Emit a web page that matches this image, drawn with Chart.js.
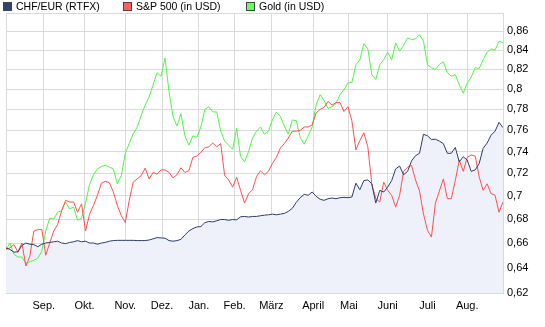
<!DOCTYPE html>
<html>
<head>
<meta charset="utf-8">
<script src="https://cdn.jsdelivr.net/npm/chart.js@4/dist/chart.umd.min.js"></script>
<style>
  body { margin: 0; background: #fff; }
  canvas { display: block; }
</style>
</head>
<body>
<canvas id="chart" width="545" height="327"></canvas>
<script>
// month labels and where each month starts (in trading-day index)
const months = ['Sep.', 'Okt.', 'Nov.', 'Dez.', 'Jan.', 'Feb.', 'März', 'April', 'Mai', 'Juni', 'Juli', 'Aug.'];
const monthStarts = [9.5, 19.75, 30, 39.25, 48.5, 57.5, 66.75, 77.25, 86.25, 96, 106, 116];
const yTicks = [0.62, 0.64, 0.66, 0.68, 0.7, 0.72, 0.74, 0.76, 0.78, 0.8, 0.82, 0.84, 0.86, 0.88];

const chfEur = [
  0.656, 0.6547, 0.6525, 0.6528, 0.658, 0.660, 0.659, 0.6587, 0.657, 0.659,
  0.660, 0.6605, 0.661, 0.6615, 0.660, 0.6595, 0.6605, 0.661, 0.662, 0.661,
  0.6615, 0.660, 0.660, 0.659, 0.660, 0.6605, 0.6615, 0.662, 0.6622, 0.6622,
  0.6622, 0.6622, 0.6622, 0.662, 0.662, 0.662, 0.6625, 0.6635, 0.6645, 0.6642,
  0.664, 0.662, 0.6615, 0.662, 0.663, 0.6667, 0.670, 0.672, 0.6734, 0.6737,
  0.677, 0.678, 0.6777, 0.6786, 0.6797, 0.6797, 0.679, 0.6797, 0.6794, 0.682,
  0.6823, 0.6818, 0.6823, 0.6823, 0.6829, 0.6834, 0.6837, 0.6843, 0.6837, 0.6843,
  0.6849, 0.6866, 0.6892, 0.6944, 0.6985, 0.7014, 0.7006, 0.7035, 0.6997, 0.6971,
  0.6962, 0.6976, 0.6982, 0.6976, 0.6985, 0.6988, 0.6985, 0.6991, 0.7113, 0.7055,
  0.7136, 0.7142, 0.7107, 0.6938, 0.7049, 0.7035, 0.7078, 0.7136, 0.7241, 0.7267,
  0.7188, 0.7219, 0.7314, 0.7362, 0.7384, 0.7562, 0.7547, 0.7512, 0.7515, 0.7497,
  0.7474, 0.7384, 0.7384, 0.7438, 0.7305, 0.7352, 0.7321, 0.7219, 0.7232, 0.7289,
  0.7429, 0.7479, 0.7553, 0.7591, 0.7675, 0.7624
];

const sp500 = [
  0.6547, 0.656, 0.6587, 0.6525, 0.660, 0.6413, 0.6493, 0.670, 0.6711, 0.6714,
  0.650, 0.660, 0.670, 0.6757, 0.6873, 0.6962, 0.6947, 0.6947, 0.6859, 0.6932,
  0.670, 0.684, 0.6918, 0.7006, 0.7113, 0.713, 0.7116, 0.7035, 0.6918, 0.6829,
  0.6771, 0.6962, 0.7122, 0.7151, 0.718, 0.7248, 0.7151, 0.7209, 0.7194, 0.7232,
  0.7232, 0.7209, 0.716, 0.7188, 0.7251, 0.7209, 0.7225, 0.7346, 0.7359, 0.7391,
  0.7435, 0.7444, 0.7479, 0.7444, 0.7474, 0.7181, 0.7142, 0.7078, 0.7165, 0.7049,
  0.6938, 0.702, 0.7055, 0.7171, 0.7223, 0.7188, 0.7219, 0.7289, 0.7346, 0.7432,
  0.7474, 0.7526, 0.7591, 0.7591, 0.7597, 0.7631, 0.7631, 0.7651, 0.7766, 0.780,
  0.782, 0.7879, 0.7843, 0.7867, 0.7867, 0.778, 0.7827, 0.7689, 0.7415, 0.7503,
  0.7576, 0.7444, 0.7107, 0.6976, 0.6947, 0.7122, 0.7049, 0.7006, 0.6903, 0.7006,
  0.7219, 0.7257, 0.7273, 0.7142, 0.7043, 0.6844, 0.6706, 0.6649, 0.6938, 0.7043,
  0.7151, 0.6976, 0.6976, 0.7136, 0.7321, 0.7219, 0.7346, 0.7368, 0.7359, 0.7171,
  0.7049, 0.7107, 0.702, 0.7006, 0.6859, 0.6947
];

const gold = [
  0.6547, 0.660, 0.6507, 0.6485, 0.6485, 0.6432, 0.6448, 0.6459, 0.6475, 0.6533,
  0.670, 0.6809, 0.680, 0.6859, 0.6873, 0.6947, 0.6888, 0.6903, 0.6791, 0.6809,
  0.6938, 0.710, 0.7188, 0.7241, 0.7263, 0.7273, 0.7257, 0.7241, 0.7107, 0.718,
  0.7384, 0.7474, 0.7568, 0.763, 0.7742, 0.7843, 0.7924, 0.8045, 0.8166, 0.8131,
  0.8318, 0.7977, 0.7732, 0.764, 0.7759, 0.7547, 0.7459, 0.7547, 0.7532, 0.763,
  0.780, 0.7827, 0.7776, 0.7776, 0.7591, 0.7497, 0.7459, 0.742, 0.7617, 0.7352,
  0.7305, 0.740, 0.7526, 0.7591, 0.763, 0.7562, 0.7591, 0.7698, 0.7776, 0.7732,
  0.764, 0.7562, 0.7698, 0.7692, 0.7532, 0.7468, 0.7547, 0.763, 0.7843, 0.7945,
  0.7887, 0.781, 0.7827, 0.786, 0.7945, 0.7995, 0.8062, 0.8069, 0.8248, 0.830,
  0.847, 0.8414, 0.8148, 0.8097, 0.8248, 0.830, 0.8379, 0.830, 0.8477, 0.839,
  0.845, 0.853, 0.8512, 0.852, 0.8565, 0.8495, 0.8248, 0.8217, 0.820, 0.8252,
  0.8279, 0.8166, 0.8131, 0.8148, 0.8045, 0.7959, 0.8062, 0.8121, 0.8217, 0.821,
  0.830, 0.8379, 0.8414, 0.840, 0.8495, 0.8477
];

const legendItems = [
  { label: 'CHF/EUR (RTFX)', color: '#34416f' },
  { label: 'S&P 500 (in USD)', color: '#ff6060' },
  { label: 'Gold (in USD)', color: '#66ff66' }
];

document.addEventListener('DOMContentLoaded', () => {
    const toXY = arr => arr.map((v, i) => ({ x: i, y: v }));
    const lastIdx = chfEur.length - 1;
    const font = { family: '"Liberation Sans", Arial, sans-serif', size: 11 };
    const gridColor = '#d9d9d9';

    // simple fixed legend row at the top
    const topLegend = {
        id: 'topLegend',
        afterDraw(chart) {
            const ctx = chart.ctx;
            ctx.save();
            ctx.font = '10.5px "Liberation Sans", Arial, sans-serif';
            ctx.textBaseline = 'middle';
            const starts = [3, 123, 246];
            legendItems.forEach((item, i) => {
                const x = starts[i];
                ctx.fillStyle = item.color;
                ctx.fillRect(x + 0.5, 2.5, 8, 8);
                ctx.strokeStyle = '#444';
                ctx.lineWidth = 1;
                ctx.strokeRect(x + 0.5, 2.5, 8, 8);
                ctx.fillStyle = '#000';
                ctx.fillText(item.label, x + 13, 7);
            });
            ctx.restore();
        }
    };

    const ctx = document.getElementById('chart').getContext('2d');
    new Chart(ctx, {
        type: 'line',
        data: {
            datasets: [{
                label: 'CHF/EUR (RTFX)',
                data: toXY(chfEur),
                borderColor: '#2f3c6b',
                backgroundColor: '#eef1f9',
                borderWidth: 1,
                fill: 'start'
            }, {
                label: 'S&P 500 (in USD)',
                data: toXY(sp500),
                borderColor: '#ff5050',
                borderWidth: 1,
                fill: false
            }, {
                label: 'Gold (in USD)',
                data: toXY(gold),
                borderColor: '#50f545',
                borderWidth: 1,
                fill: false
            }]
        },
        options: {
            responsive: false,
            animation: false,
            devicePixelRatio: 1,
            layout: { padding: { left: 3, top: 13, right: 0, bottom: 0 } },
            elements: { point: { radius: 0 }, line: { tension: 0 } },
            plugins: {
                legend: { display: false },
                tooltip: { enabled: false },
                filler: { drawTime: 'beforeDatasetsDraw' }
            },
            scales: {
                x: {
                    type: 'linear',
                    min: 0,
                    max: lastIdx,
                    afterBuildTicks: scale => {
                        scale.ticks = [0, ...monthStarts, lastIdx].map(v => ({ value: v }));
                    },
                    afterFit: scale => { scale.height = 34; },
                    grid: { color: gridColor, drawTicks: false },
                    border: { display: true, color: gridColor },
                    ticks: {
                        autoSkip: false,
                        maxRotation: 0,
                        padding: 6,
                        color: '#000',
                        font: font,
                        callback: value => {
                            const i = monthStarts.indexOf(value);
                            return i >= 0 ? months[i] : '';
                        }
                    }
                },
                y: {
                    type: 'logarithmic',
                    position: 'right',
                    min: 0.62,
                    max: 0.88,
                    afterBuildTicks: scale => {
                        scale.ticks = yTicks.map(v => ({ value: v }));
                    },
                    afterFit: scale => { scale.width = 42; },
                    grid: { color: gridColor, drawTicks: false },
                    border: { display: true, color: gridColor },
                    ticks: {
                        padding: 4,
                        color: '#000',
                        font: font,
                        callback: value => {
                            if (value >= 0.875) return '';
                            return String(Math.round(value * 100) / 100).replace('.', ',');
                        }
                    }
                }
            }
        },
        plugins: [topLegend]
    });
});
</script>
</body>
</html>
